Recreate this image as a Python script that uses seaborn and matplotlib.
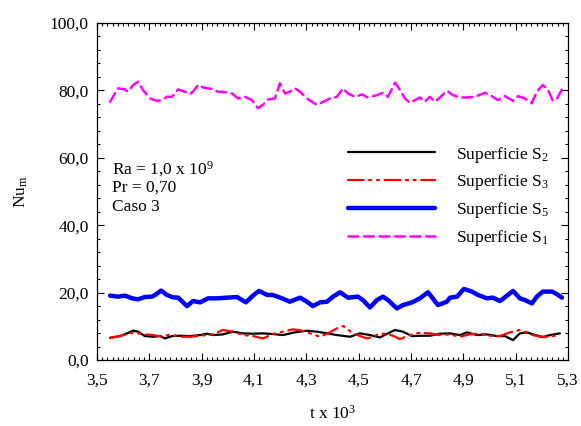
import matplotlib
matplotlib.use("Agg")
import matplotlib.pyplot as plt
from matplotlib.ticker import MultipleLocator, FuncFormatter
import seaborn as sns
import pandas as pd

# ---- data (t in units of 10^3) ----
t_s1 = [3.550, 3.580, 3.607, 3.618, 3.638, 3.657, 3.676, 3.703, 3.729, 3.748,
        3.767, 3.787, 3.810, 3.836, 3.855, 3.867, 3.886, 3.905, 3.924, 3.943,
        3.962, 3.989, 4.016, 4.039, 4.066, 4.092, 4.115, 4.134, 4.153, 4.180,
        4.199, 4.218, 4.237, 4.257, 4.276, 4.302, 4.322, 4.341, 4.364, 4.390,
        4.417, 4.440, 4.459, 4.486, 4.513, 4.535, 4.570, 4.593, 4.612, 4.639,
        4.658, 4.677, 4.696, 4.715, 4.734, 4.753, 4.772, 4.791, 4.811, 4.837,
        4.860, 4.887, 4.914, 4.944, 4.983, 5.009, 5.032, 5.059, 5.090, 5.109,
        5.135, 5.162, 5.181, 5.204, 5.223, 5.242, 5.258, 5.277]
nu_s1 = [76.6, 80.6, 80.3, 79.6, 81.6, 82.6, 80.1, 77.6, 76.9, 77.1,
         78.1, 78.1, 80.3, 79.6, 78.9, 79.6, 81.6, 80.9, 80.6, 80.4,
         79.6, 79.5, 79.1, 77.6, 78.1, 77.1, 74.7, 75.7, 77.3, 77.6,
         82.1, 79.1, 79.6, 80.6, 79.6, 77.6, 76.6, 75.7, 76.6, 77.6,
         78.1, 80.6, 79.1, 78.1, 78.8, 77.9, 78.6, 79.3, 78.1, 82.3,
         80.1, 77.6, 76.3, 77.1, 77.9, 76.6, 78.1, 76.6, 77.9, 79.9,
         78.6, 77.9, 77.9, 78.1, 79.3, 78.3, 77.1, 78.3, 76.9, 78.3,
         77.6, 76.2, 79.6, 81.6, 80.3, 76.9, 77.6, 80.3]

t_s5 = [3.550, 3.580, 3.607, 3.634, 3.657, 3.683, 3.710, 3.722, 3.745, 3.767,
        3.790, 3.810, 3.844, 3.867, 3.894, 3.924, 3.959, 3.997, 4.035, 4.069,
        4.096, 4.119, 4.150, 4.172, 4.207, 4.237, 4.276, 4.302, 4.325, 4.352,
        4.379, 4.402, 4.429, 4.459, 4.497, 4.516, 4.543, 4.570, 4.593, 4.612,
        4.646, 4.669, 4.704, 4.734, 4.765, 4.803, 4.837, 4.849, 4.876, 4.902,
        4.933, 4.956, 4.990, 5.013, 5.040, 5.067, 5.090, 5.116, 5.135, 5.162,
        5.181, 5.204, 5.239, 5.258, 5.277]
nu_s5 = [19.1, 18.8, 19.1, 18.3, 18.0, 18.7, 18.8, 19.3, 20.6, 19.3,
         18.6, 18.5, 16.0, 17.5, 17.1, 18.3, 18.3, 18.5, 18.7, 17.1,
         19.1, 20.5, 19.3, 19.3, 18.3, 17.3, 18.5, 17.3, 16.0, 17.1,
         17.3, 18.8, 20.1, 18.5, 18.8, 17.8, 15.6, 17.8, 18.8, 17.8,
         15.3, 16.3, 17.1, 18.3, 20.1, 16.3, 17.3, 18.5, 18.8, 21.1,
         20.3, 19.3, 18.3, 18.5, 17.5, 19.1, 20.5, 18.3, 17.8, 16.8,
         18.8, 20.3, 20.3, 19.5, 18.5]

t_s2 = [3.550, 3.588, 3.615, 3.638, 3.657, 3.683, 3.714, 3.741, 3.760, 3.787,
        3.817, 3.855, 3.894, 3.920, 3.943, 3.981, 4.020, 4.058, 4.096, 4.134,
        4.172, 4.211, 4.249, 4.302, 4.341, 4.379, 4.417, 4.467, 4.505, 4.543,
        4.581, 4.612, 4.639, 4.669, 4.704, 4.734, 4.772, 4.811, 4.849, 4.887,
        4.914, 4.952, 4.990, 5.028, 5.059, 5.090, 5.116, 5.143, 5.166, 5.204,
        5.231, 5.269]
nu_s2 = [6.6, 7.1, 7.9, 8.7, 8.4, 7.1, 6.9, 7.1, 6.4, 7.1,
         7.2, 7.1, 7.4, 7.8, 7.4, 7.6, 8.4, 7.9, 7.8, 7.9,
         7.7, 7.4, 8.1, 8.7, 8.4, 7.9, 7.4, 6.9, 7.9, 7.4,
         6.7, 7.9, 8.9, 8.4, 7.1, 7.2, 7.2, 7.8, 7.9, 7.4,
         8.2, 7.4, 7.6, 7.1, 7.1, 5.9, 7.9, 8.2, 7.6, 6.8,
         7.4, 7.9]

t_s3 = [3.550, 3.588, 3.638, 3.676, 3.714, 3.752, 3.779, 3.817, 3.855, 3.894,
        3.943, 3.981, 4.020, 4.058, 4.096, 4.134, 4.172, 4.211, 4.249, 4.283,
        4.314, 4.352, 4.383, 4.417, 4.440, 4.455, 4.474, 4.505, 4.532, 4.555,
        4.581, 4.612, 4.631, 4.658, 4.696, 4.734, 4.772, 4.811, 4.849, 4.887,
        4.925, 4.963, 5.002, 5.040, 5.078, 5.116, 5.155, 5.193, 5.231, 5.269]
nu_s3 = [6.6, 7.1, 8.2, 7.6, 7.4, 6.9, 7.6, 6.9, 6.9, 7.2,
         7.6, 8.9, 8.4, 7.4, 7.1, 6.4, 7.7, 8.4, 9.1, 8.7,
         7.9, 6.9, 7.9, 9.4, 10.1, 9.4, 8.1, 7.1, 6.4, 6.9,
         7.9, 7.6, 7.2, 6.2, 7.4, 8.1, 7.9, 7.4, 7.6, 6.9,
         7.6, 7.9, 7.2, 7.1, 8.2, 8.9, 7.6, 6.9, 6.9, 7.6]

labels = ["Superficie S$_{2}$", "Superficie S$_{3}$",
          "Superficie S$_{5}$", "Superficie S$_{1}$"]
xticks = [3.5, 3.7, 3.9, 4.1, 4.3, 4.5, 4.7, 4.9, 5.1, 5.3]
yticks = [0, 20, 40, 60, 80, 100]

# ---- style ----
sns.set_theme(style="ticks")
plt.rcParams["font.family"] = ["Liberation Serif", "DejaVu Serif"]
plt.rcParams["mathtext.fontset"] = "custom"
plt.rcParams["mathtext.rm"] = "Liberation Serif"
plt.rcParams["mathtext.it"] = "Liberation Serif:italic"
plt.rcParams["mathtext.bf"] = "Liberation Serif:bold"
plt.rcParams["text.color"] = "black"
plt.rcParams["axes.labelcolor"] = "black"

fig = plt.figure(figsize=(5.81, 4.26), dpi=100)
ax = fig.add_axes([97 / 581, 1 - 360 / 426, (568 - 97) / 581, (360 - 23) / 426])

series = [
    (t_s2, nu_s2, labels[0], dict(color="black", lw=1.6, ls="-")),
    (t_s3, nu_s3, labels[1], dict(color="red", lw=1.6, ls=(0, (7, 2.5, 1, 2.5, 1, 2.5)))),
    (t_s5, nu_s5, labels[2], dict(color="blue", lw=3.2, ls="-")),
    (t_s1, nu_s1, labels[3], dict(color="magenta", lw=1.8, ls=(0, (4, 2.2)))),
]
for tt, vv, lab, kw in series:
    df = pd.DataFrame({"t": tt, "nu": vv})
    sns.lineplot(data=df, x="t", y="nu", ax=ax, sort=False, label=lab,
                 estimator=None, solid_capstyle="round",
                 dash_capstyle="round", **kw)

ax.set_xlim(3.5, 5.3)
ax.set_ylim(0, 100)
ax.set_xticks(xticks)
ax.set_yticks(yticks)
ax.xaxis.set_minor_locator(MultipleLocator(0.02))
ax.yaxis.set_minor_locator(MultipleLocator(4))
ax.xaxis.set_major_formatter(FuncFormatter(lambda v, p: f"{v:.1f}".replace(".", ",")))
ax.yaxis.set_major_formatter(FuncFormatter(lambda v, p: f"{v:.1f}".replace(".", ",")))
ax.tick_params(which="both", direction="in", top=True, right=True,
               labelsize=12.5, colors="black", width=0.8)
ax.tick_params(which="major", length=5)
ax.tick_params(axis="x", which="major", pad=9)
ax.tick_params(axis="y", which="major", pad=6)
ax.tick_params(which="minor", length=2.5)
for s in ax.spines.values():
    s.set_color("black")
    s.set_linewidth(0.9)

ax.set_xlabel("t x 10$^{3}$", fontsize=12.5, labelpad=12)
ax.set_ylabel("Nu$_{\\mathrm{m}}$", fontsize=12.5, labelpad=14)

ax.text(0.032, 0.565, "Ra = 1,0 x 10$^{9}$", transform=ax.transAxes, fontsize=12.5, va="center")
ax.text(0.032, 0.51, "Pr = 0,70", transform=ax.transAxes, fontsize=12.5, va="center")
ax.text(0.032, 0.455, "Caso 3", transform=ax.transAxes, fontsize=12.5, va="center")

leg = ax.legend(loc="upper left", bbox_to_anchor=(0.519, 0.66), frameon=False,
                fontsize=12.5, handlelength=5.0, handletextpad=1.2,
                labelspacing=0.45, borderaxespad=0)
for txt in leg.get_texts():
    txt.set_color("black")

fig.savefig("out.png", dpi=100)
